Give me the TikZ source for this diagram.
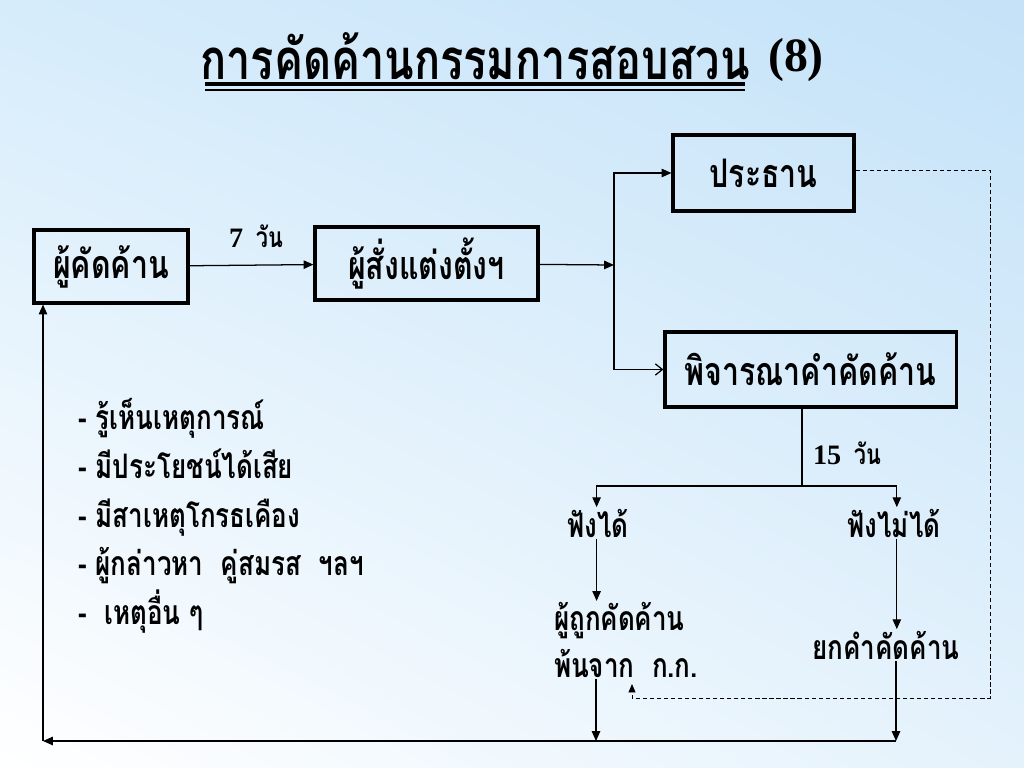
\documentclass[tikz,border=0pt]{standalone}
\usepackage{fontspec}
\newfontfamily\thaifont[Script=Thai, FakeStretch=0.77]{Loma}
\newfontfamily\numfont{Liberation Serif}
\usetikzlibrary{arrows.meta,positioning,shadings}

\definecolor{skytop}{HTML}{D6ECFB}
\definecolor{skyright}{HTML}{C4E2F8}
\definecolor{skylow}{HTML}{E4F2FC}

\tikzset{
	box/.style={draw, line width=2.2pt, inner sep=0pt,
		font=\thaifont\bfseries\fontsize{28}{30}\selectfont},
	lbl/.style={inner sep=1pt, font=\thaifont\bfseries\fontsize{24}{28}\selectfont},
	small/.style={inner sep=0pt, font=\bfseries\fontsize{20}{24}\selectfont},
	link/.style={line width=0.9pt, -{Triangle[length=7pt,width=6pt]}},
	openlink/.style={line width=0.9pt, -{Straight Barb[length=5pt,width=8pt]}},
	back/.style={line width=0.6pt, dashed, dash pattern=on 3pt off 2pt,
		-{Triangle[length=6pt,width=5pt]}}
}

\begin{document}
\begin{tikzpicture}[x=0.025cm, y=-0.025cm]

	% background
	\shade[upper left=skytop, upper right=skyright, lower left=white, lower right=skylow]
		(0,0) rectangle (1024,768);
	\useasboundingbox (0,0) rectangle (1024,768);

	% title
	\node[inner sep=0pt, font=\thaifont\bfseries\fontsize{40}{44}\selectfont] (title) at (475,56)
		{การคัดค้านกรรมการสอบสวน};
	\node[inner sep=0pt, font=\numfont\bfseries\fontsize{34}{38}\selectfont] (num) at (796,60) {(8)};
	\draw[line width=2.8pt] (205,84) -- (745,84);
	\draw[line width=1pt] (205,90) -- (745,90);

	% boxes
	\node[box, minimum width=3.85cm, minimum height=1.825cm] (objector) at (111,266.5) {ผู้คัดค้าน};
	\node[box, minimum width=5.575cm, minimum height=1.825cm] (appointer) at (426.5,263.5) {ผู้สั่งแต่งตั้งฯ};
	\node[box, minimum width=4.525cm, minimum height=1.9cm] (chair) at (763.5,173) {ประธาน};
	\node[box, minimum width=7.275cm, minimum height=1.875cm] (review) at (810.5,369.5) {พิจารณาคำคัดค้าน};

	% labels
	\node[small] (days7) at (256,236) {{\numfont 7}\hspace{0.45em}\thaifont วัน};
	\node[small] (days15) at (847,453) {{\numfont 15}\hspace{0.45em}\thaifont วัน};
	\node[lbl] (yes) at (598,523) {ฟังได้};
	\node[lbl] (no) at (894,523) {ฟังไม่ได้};
	\node[lbl, align=left, font=\thaifont\bfseries\fontsize{24}{33}\selectfont] (freed) at (626,640)
		{ผู้ถูกคัดค้าน\\พ้นจาก\ \ ก.ก.};
	\node[lbl] (drop) at (886,645) {ยกคำคัดค้าน};

	% reasons
	\node[inner sep=0pt, anchor=north west, align=left,
		font=\thaifont\bfseries\fontsize{24}{34.7}\selectfont] (reasons) at (78,398)
		{- รู้เห็นเหตุการณ์\\- มีประโยชน์ได้เสีย\\- มีสาเหตุโกรธเคือง\\- ผู้กล่าวหา\ \ คู่สมรส\ \ ฯลฯ\\-\ \ เหตุอื่น ๆ};

	% connectors
	\coordinate (fork) at (614,265);
	\coordinate (split) at (802,486);
	\coordinate (yesend) at (596,741);
	\coordinate (noend) at (896,741);
	\coordinate (corner) at (43,741);
	\coordinate (dashtop) at (990,170);
	\coordinate (dashlow) at (990,698);
	\coordinate (dashend) at (632,684);

	\draw[link] (objector) -- (appointer);
	\draw[link] (appointer) -- (fork);
	\draw[link] (fork) |- (chair.west);
	\draw[openlink] (fork) |- (review.west);

	\draw[line width=0.9pt] (split |- review.south) -- (split);
	\draw[link] (split) -| ([xshift=-1pt]yes.north);
	\draw[link] (split) -| ([xshift=2pt]no.north);
	\draw[link] ([xshift=-1pt]yes.south) -- ([xshift=-1pt]yes.south |- freed.north);
	\draw[link] ([xshift=2pt]no.south) -- ([xshift=2pt]no.south |- drop.north);
	\draw[link] (freed.south -| yesend) -- (yesend);
	\draw[link] (drop.south -| noend) -- (noend);
	\draw[link] (noend) -- (corner);
	\draw[link] (corner) -- (corner |- objector.south);

	\draw[back] (chair.east |- dashtop) -- (dashtop) -- (dashlow) -- (dashlow -| dashend) -- (dashend);

\end{tikzpicture}
\end{document}
